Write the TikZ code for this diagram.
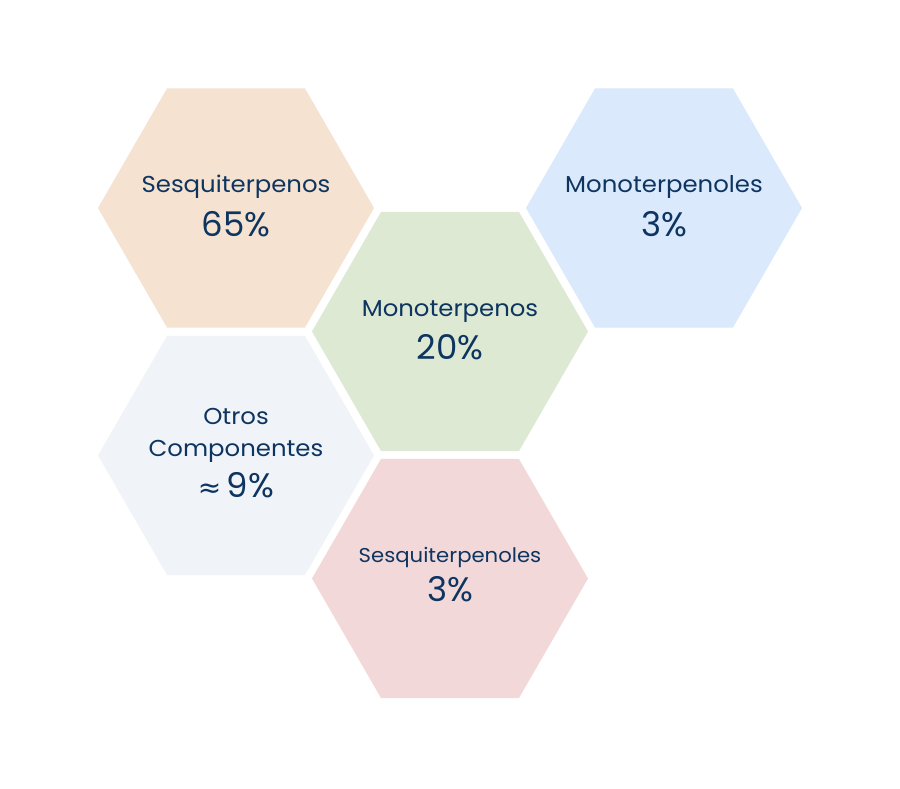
\documentclass[tikz,border=0pt]{standalone}
\usepackage{fontspec}
\setmainfont{Poppins}
\newfontfamily\lblfont[FakeStretch=1.06]{Poppins}
\newfontfamily\symfont{DejaVu Sans}
\usetikzlibrary{shapes.geometric}
\definecolor{txt}{HTML}{0E3560}
\definecolor{cpeach}{HTML}{F5E2D0}
\definecolor{cgreen}{HTML}{DDE9D3}
\definecolor{cblue}{HTML}{DAE9FC}
\definecolor{cgray}{HTML}{F0F4F8}
\definecolor{cpink}{HTML}{F3D8D9}
\tikzset{
  hexa/.style={regular polygon, regular polygon sides=6, minimum size=276pt, inner sep=0pt, outer sep=0pt, draw=none},
  lbl/.style={anchor=base, text=txt, inner sep=0pt, font=\lblfont\fontsize{23}{26}\selectfont},
  lblsm/.style={anchor=base, text=txt, inner sep=0pt, font=\lblfont\fontsize{20}{23}\selectfont},
  pct/.style={anchor=base, text=txt, inner sep=0pt, font=\fontsize{34}{38}\selectfont},
}
\begin{document}
\begin{tikzpicture}[x=1pt,y=1pt]
\useasboundingbox[fill=white] (0,0) rectangle (900,788);
\node[hexa, fill=cpeach] (h1) at (236,580) {};
\node[hexa, fill=cgreen] (h2) at (450,456.5) {};
\node[hexa, fill=cblue]  (h3) at (664,580) {};
\node[hexa, fill=cgray]  (h4) at (236,332.5) {};
\node[hexa, fill=cpink]  (h5) at (450,209.5) {};
\node[lbl] (t1) at (236,595) {Sesquiterpenos};
\node[pct] (p1) at (236,551) {65\%};
\node[lbl] (t2) at (450,471) {Monoterpenos};
\node[pct] (p2) at (450,428) {20\%};
\node[lbl] (t3) at (664,595) {Monoterpenoles};
\node[pct] (p3) at (664,551) {3\%};
\node[lbl] (t4a) at (236,363) {Otros};
\node[lbl] (t4b) at (236,331) {Componentes};
\node[pct] (p4) at (236,290) {{\symfont\fontsize{28}{30}\selectfont ≈}\,9\%};
\node[lblsm] (t5) at (450,225) {Sesquiterpenoles};
\node[pct] (p5) at (450,186) {3\%};
\end{tikzpicture}
\end{document}
